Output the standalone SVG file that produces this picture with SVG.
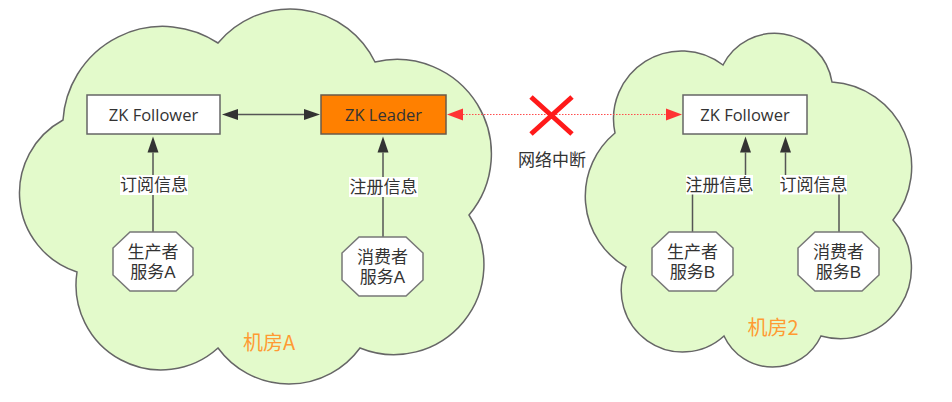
<svg xmlns="http://www.w3.org/2000/svg" width="952" height="402" viewBox="0 0 952 402">
<style>
.cloud{fill:#E3FACB;stroke:#666;stroke-width:1.5}
.box{fill:#fff;stroke:#666;stroke-width:1.5}
.leader{fill:#FF8000;stroke:#6a5a4a;stroke-width:1.5}
.oct{fill:#fff;stroke:#777;stroke-width:1.5}
.t{font-family:"Open Sans","Noto Sans CJK SC",sans-serif;font-size:17px;fill:#333;text-anchor:middle}
.o{font-family:"Liberation Sans","Noto Sans CJK SC",sans-serif;font-size:17px;fill:#333;text-anchor:middle}
.z{font-family:"Open Sans","Noto Sans CJK SC",sans-serif;font-size:16.5px;fill:#333;text-anchor:middle}
.room{font-family:"Noto Sans CJK SC",sans-serif;font-size:20px;fill:#FF9A33;text-anchor:middle}
.lbl{fill:#fff}
.edge{fill:none;stroke:#555;stroke-width:1.5}
.red{fill:none;stroke:#FF4D4D;stroke-width:1.2;stroke-dasharray:1.5 1.5}
.x{stroke:#FF1A1A;stroke-width:5;fill:none}
</style>
<defs>
<marker id="ah" markerUnits="userSpaceOnUse" markerWidth="16" markerHeight="12" refX="0" refY="5.5" orient="auto-start-reverse" overflow="visible">
<path d="M0,0 L16,5.5 L0,11 Z" fill="#333"/>
</marker>
<marker id="rh" markerUnits="userSpaceOnUse" markerWidth="16" markerHeight="12" refX="0" refY="6" orient="auto-start-reverse" overflow="visible">
<path d="M0,0 L16,6 L0,12 Z" fill="#FF3333"/>
</marker>
</defs>

<g id="room-a">
<path class="cloud" d="M63,120 A100,100 0 0 1 218,43 A94,94 0 0 1 375,62 A94.5,94.5 0 0 1 469,215 A90,90 0 0 1 360,348 A88,88 0 0 1 218,348 A85,85 0 0 1 77,272 A83,83 0 0 1 63,120 Z"/>
<text class="room" x="269" y="350">机房A</text>
</g>
<g id="room-b">
<path class="cloud" d="M615,133 A68,68 0 0 1 723,65 A58,58 0 0 1 832,82 A85,85 0 0 1 893,220 A71,71 0 0 1 821,336 A53.4,53.4 0 0 1 724,336 A61.4,61.4 0 0 1 626,267 A82,82 0 0 1 615,133 Z"/>
<text class="room" x="773" y="334.5">机房2</text>
</g>

<g id="connectors">
<line class="edge" x1="238" y1="114.5" x2="304" y2="114.5" marker-start="url(#ah)" marker-end="url(#ah)"/>
<line class="edge" x1="153" y1="232" x2="153" y2="152.5" marker-end="url(#ah)"/>
<line class="edge" x1="383" y1="237" x2="383" y2="152.5" marker-end="url(#ah)"/>
<polyline class="edge" points="692.5,232 692.5,184.5 745.5,184.5 745.5,152.5" marker-end="url(#ah)"/>
<polyline class="edge" points="839,232 839,184.5 785.5,184.5 785.5,152.5" marker-end="url(#ah)"/>
<line class="red" x1="463" y1="114.5" x2="666" y2="114.5" marker-start="url(#rh)" marker-end="url(#rh)"/>
<g id="label-sub-a"><rect class="lbl" x="120" y="175" width="68" height="20"/><text class="t" x="154" y="191">订阅信息</text></g>
<g id="label-reg-a"><rect class="lbl" x="349" y="177" width="69" height="20"/><text class="t" x="383.5" y="193">注册信息</text></g>
<g id="label-reg-b"><rect class="lbl" x="686" y="175" width="67" height="19.5"/><text class="t" x="719.5" y="190.5">注册信息</text></g>
<g id="label-sub-b"><rect class="lbl" x="780" y="175" width="67" height="19.5"/><text class="t" x="813.5" y="190.5">订阅信息</text></g>
</g>

<g id="zk-follower-a">
<rect class="box" x="87" y="95" width="133" height="39"/>
<text class="z" x="153.5" y="120.5">ZK Follower</text>
</g>
<g id="zk-leader">
<rect class="leader" x="321" y="95" width="125" height="39"/>
<text class="z" x="383.5" y="120.5">ZK Leader</text>
</g>
<g id="zk-follower-b">
<rect class="box" x="683" y="95" width="124" height="39"/>
<text class="z" x="745" y="120.5">ZK Follower</text>
</g>

<g id="network-break">
<path class="x" d="M531,97 L572,134 M572,97 L531,134"/>
<text class="t" x="552" y="166">网络中断</text>
</g>

<g id="producer-a">
<polygon class="oct" points="130,232 176,232 193,248 193,275 176,291 130,291 113,275 113,248"/>
<text class="o" x="153" y="258">生产者</text>
<text class="o" x="153" y="278">服务A</text>
</g>
<g id="consumer-a">
<polygon class="oct" points="359,237 406,237 423,253 423,280 406,296 359,296 342,280 342,253"/>
<text class="o" x="382.5" y="263">消费者</text>
<text class="o" x="382.5" y="283">服务A</text>
</g>
<g id="producer-b">
<polygon class="oct" points="669,232 716,232 733,248 733,275 716,291 669,291 652,275 652,248"/>
<text class="o" x="692.5" y="258">生产者</text>
<text class="o" x="692.5" y="278">服务B</text>
</g>
<g id="consumer-b">
<polygon class="oct" points="815,232 862,232 879,248 879,275 862,291 815,291 798,275 798,248"/>
<text class="o" x="838.5" y="258">消费者</text>
<text class="o" x="838.5" y="278">服务B</text>
</g>
</svg>
